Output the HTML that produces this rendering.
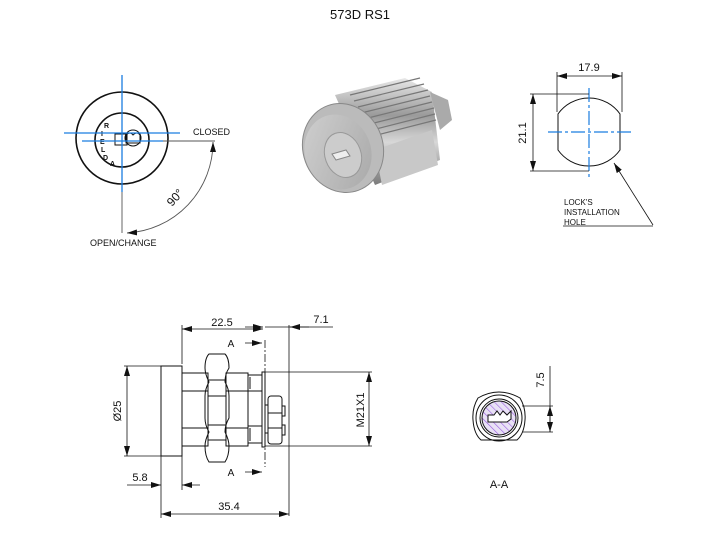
<!DOCTYPE html>
<html><head><meta charset="utf-8"><style>
html,body{margin:0;padding:0;background:#fff}
svg{display:block}
text{font-family:"Liberation Sans",Arial,sans-serif;fill:#111}
</style></head><body>
<svg width="720" height="540" viewBox="0 0 720 540" xmlns="http://www.w3.org/2000/svg">
<defs>
<marker id="ar" viewBox="0 0 10 6" refX="10" refY="3" markerWidth="10" markerHeight="6" orient="auto-start-reverse" markerUnits="userSpaceOnUse"><path d="M0,0L10,3L0,6z" fill="#111"/></marker>
<linearGradient id="cyl" x1="0" y1="0" x2="0" y2="1"><stop offset="0" stop-color="#e8e8e8"/><stop offset=".35" stop-color="#9a9a9a"/><stop offset=".6" stop-color="#d8d8d8"/><stop offset="1" stop-color="#7a7a7a"/></linearGradient>
<linearGradient id="face" x1="0" y1="0" x2="1" y2="1"><stop offset="0" stop-color="#d0d0d0"/><stop offset="1" stop-color="#a8a8a8"/></linearGradient>
<pattern id="hatch" width="5" height="5" patternUnits="userSpaceOnUse" patternTransform="rotate(-45)"><rect width="5" height="5" fill="#e8e0f5"/><line x1="0" y1="0" x2="0" y2="5" stroke="#9a5ee0" stroke-width="1.2"/></pattern>
</defs>
<text x="360" y="19" font-size="13" text-anchor="middle">573D RS1</text>

<!-- front view -->
<g fill="none" stroke="#111" stroke-width="1.6">
<circle cx="122" cy="138" r="46"/>
<circle cx="122" cy="140" r="27"/>
</g>
<g stroke="#111" stroke-width="1" fill="none">
<rect x="115" y="134" width="12" height="11"/>
<circle cx="133" cy="138" r="8"/>
<path d="M126,135 q4,-4 7,0 q4,-4 7,0 v8 h-14z"/>
</g>
<g font-size="7" font-weight="bold">
<text x="104" y="128">R</text><text x="101" y="136">I</text><text x="100" y="144">E</text><text x="101" y="152">L</text><text x="103" y="160">D</text><text x="110" y="166">A</text>
</g>
<g stroke="#1a7de0" stroke-width="1.3">
<line x1="64" y1="133" x2="180" y2="133"/>
<line x1="82" y1="141" x2="163" y2="141"/>
<line x1="122" y1="75" x2="122" y2="192"/>
</g>
<g stroke="#555" stroke-width="0.9" fill="none">
<line x1="163" y1="141" x2="215" y2="141"/>
<line x1="122" y1="192" x2="122" y2="233"/>
<path d="M213,142 A91,91 0 0 1 127,233" marker-start="url(#ar)" marker-end="url(#ar)"/>
</g>
<text x="193" y="135" font-size="9">CLOSED</text>
<text x="90" y="246" font-size="9">OPEN/CHANGE</text>
<text x="0" y="0" font-size="12" transform="translate(172,207) rotate(-48)">90°</text>

<!-- photo -->
<g>
<path d="M335,95 L405,78 L432,92 L440,160 L375,185 Z" fill="url(#cyl)"/>
<g stroke="#777" stroke-width="1.2">
<line x1="350" y1="95" x2="420" y2="78"/><line x1="354" y1="101" x2="424" y2="84"/><line x1="358" y1="107" x2="428" y2="90"/>
<line x1="361" y1="113" x2="430" y2="96"/><line x1="364" y1="119" x2="432" y2="102"/><line x1="366" y1="125" x2="434" y2="108"/>
<line x1="368" y1="131" x2="435" y2="114"/><line x1="369" y1="137" x2="436" y2="120"/>
</g>
<path d="M375,150 L432,130 L438,165 L382,185Z" fill="#c8c8c8"/>
<path d="M430,92 L448,100 L452,120 L440,130Z" fill="#aaa"/>
<ellipse cx="343" cy="148" rx="40" ry="45" transform="rotate(-20 343 148)" fill="#bbb" stroke="#888"/>
<ellipse cx="338" cy="152" rx="33" ry="38" transform="rotate(-20 338 152)" fill="url(#face)"/>
<ellipse cx="343" cy="155" rx="18" ry="23" transform="rotate(-20 343 155)" fill="#ccc" stroke="#999"/>
<path d="M332,154 l14,-4 l4,6 l-14,4z" fill="#eee" stroke="#888"/>
</g>

<!-- installation hole -->
<path d="M558,114 A38,38 0 0 1 620,114 L620,150 A38,38 0 0 1 558,150 Z" fill="none" stroke="#111" stroke-width="1"/>
<g stroke="#1a7de0" stroke-width="1.2" stroke-dasharray="14,3,3,3">
<line x1="548" y1="132" x2="632" y2="132"/>
<line x1="589" y1="88" x2="589" y2="177"/>
</g>
<g stroke="#111" stroke-width="0.8" fill="none">
<line x1="557" y1="72" x2="557" y2="112"/><line x1="622" y1="72" x2="622" y2="112"/>
<line x1="557" y1="76" x2="622" y2="76" marker-start="url(#ar)" marker-end="url(#ar)"/>
<line x1="530" y1="94" x2="589" y2="94"/><line x1="530" y1="171" x2="589" y2="171"/>
<line x1="533" y1="94" x2="533" y2="171" marker-start="url(#ar)" marker-end="url(#ar)"/>
<line x1="653" y1="225" x2="614" y2="163" marker-end="url(#ar)"/>
<line x1="563" y1="226" x2="653" y2="226"/>
</g>
<text x="589" y="71" font-size="11" text-anchor="middle">17.9</text>
<text font-size="11" text-anchor="middle" transform="translate(526,133) rotate(-90)">21.1</text>
<text x="564" y="205" font-size="8">LOCK'S</text>
<text x="564" y="215" font-size="8">INSTALLATION</text>
<text x="564" y="225" font-size="8">HOLE</text>

<!-- side view -->
<g fill="none" stroke="#111" stroke-width="1">
<rect x="161" y="366" width="21" height="90"/>
<rect x="182" y="373" width="26" height="73"/>
<line x1="182" y1="391" x2="208" y2="391"/><line x1="182" y1="428" x2="208" y2="428"/>
<rect x="226" y="373" width="22" height="73"/>
<line x1="226" y1="391" x2="248" y2="391"/><line x1="226" y1="428" x2="248" y2="428"/>
<path d="M209,354 h16 q4,4 4,14 q-4,6 -4,14 q4,7 4,14 q0,10 0,22 q-4,7 -4,14 q4,8 4,14 q0,10 -4,16 h-16 q-4,-6 -4,-16 q0,-6 4,-14 q-4,-7 -4,-14 q0,-12 0,-22 q0,-7 4,-14 q-4,-8 -4,-14 q0,-10 4,-14z"/>
<line x1="208" y1="380" x2="226" y2="380"/><line x1="208" y1="396" x2="226" y2="396"/><line x1="208" y1="425" x2="226" y2="425"/><line x1="208" y1="440" x2="226" y2="440"/>
<path d="M248,375 h14 v16 h-14 z M250,377 v12"/>
<path d="M248,426 h14 v17 h-14 z M250,428 v13"/>
<rect x="262" y="372" width="3" height="75"/>
<rect x="268" y="396" width="14" height="48" rx="3"/>
<line x1="268" y1="413" x2="282" y2="413"/><line x1="268" y1="428" x2="282" y2="428"/>
<rect x="265" y="405" width="3" height="28"/><rect x="282" y="406" width="3" height="10"/><rect x="282" y="425" width="3" height="10"/>
</g>
<line x1="265" y1="340" x2="265" y2="467" stroke="#111" stroke-width="0.8" stroke-dasharray="8,2,2,2"/>
<g stroke="#111" stroke-width="0.8" fill="none">
<line x1="182" y1="325" x2="182" y2="364"/>
<line x1="182" y1="329" x2="263" y2="329" marker-start="url(#ar)" marker-end="url(#ar)"/>
<line x1="265" y1="327" x2="333" y2="327"/>
<line x1="245" y1="327" x2="263" y2="327" marker-end="url(#ar)"/>
<line x1="309" y1="327" x2="290" y2="327" marker-end="url(#ar)"/>
<line x1="289" y1="325" x2="289" y2="516"/>
<line x1="245" y1="343" x2="262" y2="343" marker-end="url(#ar)"/>
<line x1="245" y1="472" x2="262" y2="472" marker-end="url(#ar)"/>
<line x1="124" y1="366" x2="161" y2="366"/><line x1="124" y1="456" x2="161" y2="456"/>
<line x1="127" y1="366" x2="127" y2="456" marker-start="url(#ar)" marker-end="url(#ar)"/>
<line x1="265" y1="372" x2="372" y2="372"/><line x1="265" y1="446" x2="372" y2="446"/>
<line x1="369" y1="372" x2="369" y2="446" marker-start="url(#ar)" marker-end="url(#ar)"/>
<line x1="161" y1="456" x2="161" y2="518"/><line x1="182" y1="446" x2="182" y2="490"/>
<line x1="127" y1="485" x2="161" y2="485" marker-end="url(#ar)"/>
<line x1="200" y1="485" x2="182" y2="485" marker-end="url(#ar)"/>
<line x1="161" y1="514" x2="289" y2="514" marker-start="url(#ar)" marker-end="url(#ar)"/>
</g>
<text x="222" y="326" font-size="11" text-anchor="middle">22.5</text>
<text x="321" y="323" font-size="11" text-anchor="middle">7.1</text>
<text x="231" y="347" font-size="10" text-anchor="middle">A</text>
<text x="231" y="476" font-size="10" text-anchor="middle">A</text>
<text font-size="11" text-anchor="middle" transform="translate(121,411) rotate(-90)">Ø25</text>
<text font-size="11" text-anchor="middle" transform="translate(364,410) rotate(-90)">M21X1</text>
<text x="140" y="481" font-size="11" text-anchor="middle">5.8</text>
<text x="229" y="510" font-size="11" text-anchor="middle">35.4</text>

<!-- section A-A -->
<g fill="none" stroke="#111" stroke-width="1">
<path d="M478,398 q21,-12 42,0 q6,10 5,22 q-1,14 -8,20 h-36 q-7,-6 -8,-20 q-1,-12 5,-22z"/>
<circle cx="499" cy="418" r="23"/>
<circle cx="499" cy="418" r="19"/>
<circle cx="499" cy="418" r="17" fill="url(#hatch)"/>
<path d="M488,415 h6 l3,-4 l3,4 l3,-4 l4,4 l4,-4 v8 l-4,3 h-19z" fill="#fff"/>
</g>
<g stroke="#111" stroke-width="0.8" fill="none">
<line x1="522" y1="406" x2="553" y2="406"/><line x1="522" y1="432" x2="553" y2="432"/>
<line x1="550" y1="366" x2="550" y2="432"/>
<line x1="550" y1="418" x2="550" y2="432" marker-end="url(#ar)"/>
<line x1="550" y1="420" x2="550" y2="406" marker-end="url(#ar)"/>
</g>
<text font-size="11" text-anchor="middle" transform="translate(544,380) rotate(-90)">7.5</text>
<text x="499" y="488" font-size="11" text-anchor="middle">A-A</text>
</svg>
</body></html>
